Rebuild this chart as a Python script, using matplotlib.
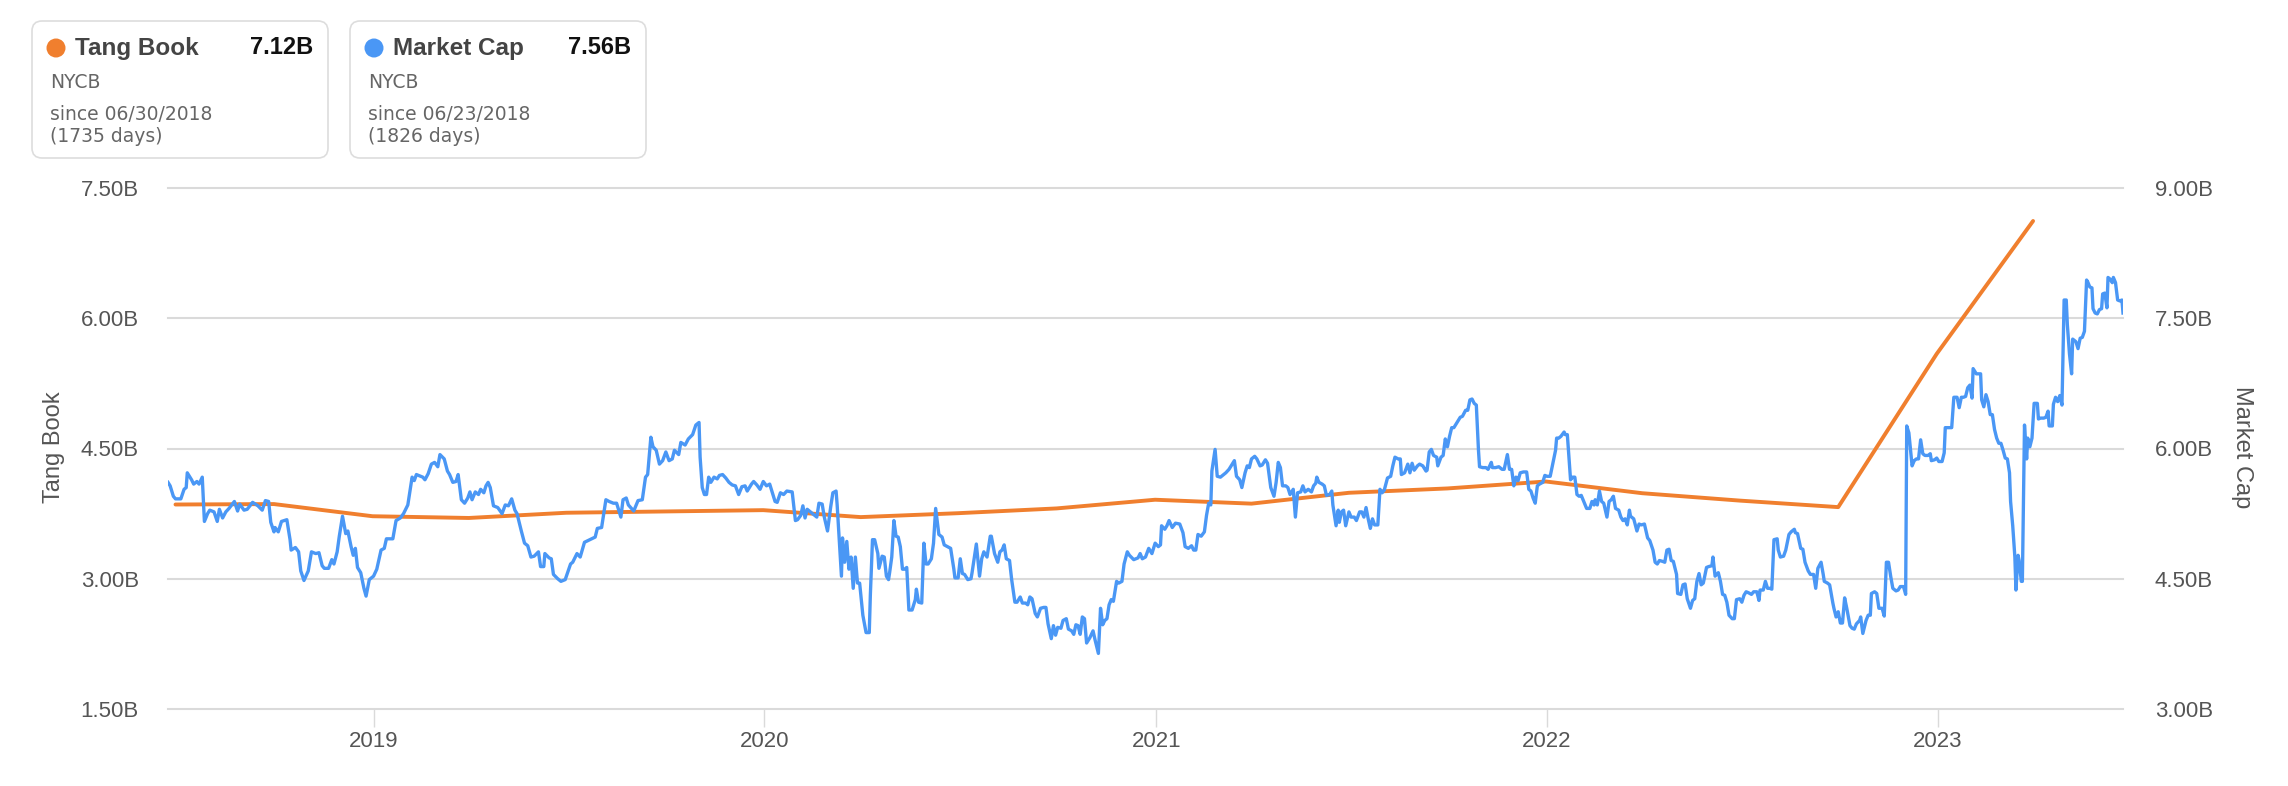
import numpy as np
import pandas as pd
import matplotlib
matplotlib.use("Agg")
import matplotlib.pyplot as plt
import matplotlib.dates as mdates
from matplotlib.patches import FancyBboxPatch, Circle
from matplotlib.ticker import FuncFormatter

# Tangible book value (quarterly, billions)
tb_dates = ["2018-06-30", "2018-09-30", "2018-12-31", "2019-03-31", "2019-06-30",
            "2019-09-30", "2019-12-31", "2020-03-31", "2020-06-30", "2020-09-30",
            "2020-12-31", "2021-03-31", "2021-06-30", "2021-09-30", "2021-12-31",
            "2022-03-31", "2022-06-30", "2022-09-30", "2022-12-31", "2023-03-31"]
tb_vals = [3.855, 3.86, 3.72, 3.70, 3.76, 3.775, 3.79, 3.71, 3.755, 3.81,
           3.91, 3.865, 3.99, 4.04, 4.12, 3.985, 3.90, 3.825, 5.59, 7.12]

# Market cap (days since 2018-06-23, billions)
mc_start = "2018-06-23"
mc_days = [
    0, 2, 5, 7, 12, 15, 17, 18, 22, 24, 27, 29, 32, 34, 37, 39, 43, 46, 48, 51,
    54, 57, 62, 65, 67, 71, 74, 79, 84, 88, 91, 94, 96, 99, 100, 103, 106, 111, 114, 115,
    119, 122, 124, 127, 131, 134, 138, 141, 144, 146, 150, 153, 155, 158, 160, 163, 166, 168, 171, 173,
    175, 177, 180, 183, 185, 188, 192, 195, 199, 202, 204, 210, 213, 217, 220, 224, 228, 230, 232, 238,
    240, 243, 246, 249, 252, 254, 258, 261, 263, 266, 269, 271, 274, 277, 280, 282, 284, 287, 290, 292,
    295, 297, 299, 301, 304, 308, 312, 315, 318, 321, 324, 326, 330, 333, 336, 339, 342, 346, 348, 351,
    352, 356, 358, 360, 364, 367, 371, 376, 378, 382, 385, 389, 394, 399, 401, 405, 409, 412, 416, 419,
    423, 425, 428, 430, 435, 439, 443, 446, 448, 451, 453, 456, 459, 462, 465, 468, 471, 473, 477, 479,
    483, 486, 490, 493, 496, 497, 499, 501, 503, 505, 507, 510, 513, 515, 518, 521, 524, 527, 530, 533,
    536, 539, 541, 545, 547, 550, 553,
    556, 559, 562, 564, 567, 569, 572, 575, 578, 583, 586, 588, 591, 593, 595, 597, 600, 603, 606, 608,
    611, 613, 616, 619, 621, 624, 625, 627, 629, 630, 632, 634, 636, 638, 640, 642, 644, 646, 649, 652,
    655, 656, 658, 660, 663, 664, 667, 669, 671, 673, 674, 676, 678, 680, 682, 684, 686, 688, 690, 692,
    695, 698, 699, 701, 704, 706, 708, 710, 713, 715, 717, 720, 723, 725, 728, 731, 734, 735, 738, 740,
    742, 744, 747, 750, 751, 755, 758, 760, 762, 765, 768, 769, 772, 775, 777, 779, 781, 783, 786, 788,
    791, 793, 796, 798, 801, 803, 805, 807, 810, 812, 815, 818, 820, 822, 825, 827, 829, 831, 834, 836,
    839, 841, 844, 846, 848, 850, 852, 854, 856, 858, 861, 864, 866, 869, 871, 873, 875, 877, 879, 881,
    883, 886, 888, 891, 893, 896, 898, 902, 906, 908, 910, 913, 916, 919, 922, 925, 927, 928, 931, 933,
    935, 938, 941, 945, 948, 950, 953, 956, 958, 960, 962, 965, 968, 970, 972, 974, 975, 978, 980, 983,
    986, 988, 991, 993, 996, 998, 1001, 1003, 1006, 1008, 1010, 1012, 1015, 1017, 1020, 1022, 1025, 1027, 1030, 1033,
    1035, 1037, 1039, 1041, 1044, 1046, 1048, 1051, 1053, 1055, 1058, 1060, 1062, 1065, 1068, 1070, 1072, 1073, 1075, 1078,
    1080, 1082, 1085, 1087, 1088, 1091, 1093,
    1094, 1096, 1098, 1100, 1103, 1105, 1108, 1110, 1113, 1115, 1117, 1119, 1121, 1123, 1125, 1127, 1130, 1132, 1134, 1136,
    1139, 1142, 1144, 1146, 1149, 1151, 1152, 1155, 1158, 1160, 1162, 1164, 1167, 1169, 1172, 1175, 1176, 1178, 1180, 1182,
    1185, 1186, 1189, 1191, 1193, 1195, 1197, 1199, 1201, 1204, 1207, 1209, 1212, 1214, 1216, 1218, 1220, 1222, 1224, 1225,
    1228, 1231, 1233, 1236, 1237, 1240, 1243, 1246, 1248, 1251, 1253, 1255, 1257, 1259, 1261, 1263, 1266, 1269, 1271, 1273,
    1275, 1277, 1279, 1281, 1284, 1286, 1288, 1291, 1294, 1296, 1297, 1299, 1301, 1304, 1305, 1307, 1310, 1312, 1314, 1316,
    1318, 1320, 1323, 1325, 1328, 1330, 1332, 1333, 1335, 1337, 1339, 1341, 1344, 1346, 1348, 1350, 1352, 1355, 1357, 1359,
    1361, 1363, 1365, 1366, 1369, 1372, 1374, 1376, 1379, 1382, 1384, 1387, 1389, 1391, 1393, 1396, 1398, 1400, 1402, 1404,
    1406, 1409, 1410, 1413, 1415, 1417, 1419, 1422, 1424, 1426, 1428, 1430, 1432, 1434, 1437, 1439, 1442, 1443, 1445, 1448,
    1450, 1452, 1454, 1456, 1458, 1461, 1463, 1465, 1468, 1470, 1472, 1474, 1476, 1479, 1481, 1484, 1486, 1487, 1490, 1492,
    1494, 1496, 1498, 1500, 1503, 1504, 1506, 1509, 1511, 1514, 1516, 1519, 1520, 1522, 1525, 1527, 1529, 1532, 1534, 1537,
    1539, 1541, 1544, 1546, 1547, 1550, 1552, 1555, 1556, 1558, 1560, 1562, 1564, 1566, 1568, 1571, 1573, 1575, 1577, 1580,
    1581, 1583, 1586, 1588, 1590, 1591, 1594, 1596, 1598, 1601, 1603, 1605, 1607, 1609, 1611, 1614, 1616, 1618, 1621, 1623,
    1624,
    1626, 1629, 1631, 1633, 1635, 1637, 1639, 1641, 1644, 1646, 1647, 1650, 1652, 1654, 1657, 1659, 1660, 1664, 1666, 1668,
    1671, 1673, 1675, 1677, 1679, 1681, 1683, 1685, 1686, 1689, 1690, 1693, 1694, 1696, 1698, 1700, 1702, 1704, 1706, 1708,
    1710, 1712, 1714, 1716, 1718, 1720, 1721, 1723, 1725, 1726, 1728, 1729, 1731, 1732, 1734, 1736, 1737, 1739, 1741, 1743,
    1746, 1747, 1749, 1752, 1754, 1756, 1757, 1760, 1761, 1763, 1765, 1767, 1769, 1771, 1773, 1774, 1776, 1778, 1779, 1782,
    1784, 1786, 1788, 1790, 1792, 1793, 1795, 1797, 1798, 1800, 1802, 1804, 1806, 1807, 1809, 1811, 1812, 1814, 1816, 1817,
    1819, 1821, 1823, 1825, 1826]
mc_vals = [
    5.61, 5.57, 5.45, 5.42, 5.42, 5.53, 5.55, 5.72, 5.64, 5.59, 5.62, 5.59, 5.67, 5.16, 5.25, 5.29, 5.27, 5.16, 5.30, 5.20,
    5.27, 5.31, 5.39, 5.28, 5.36, 5.29, 5.30, 5.38, 5.34, 5.29, 5.40, 5.39, 5.15, 5.04, 5.09, 5.04, 5.16, 5.18, 4.95, 4.83,
    4.86, 4.81, 4.59, 4.48, 4.59, 4.81, 4.79, 4.80, 4.65, 4.62, 4.62, 4.72, 4.67, 4.81, 4.99, 5.22, 5.02, 5.05, 4.87, 4.77,
    4.85, 4.63, 4.57, 4.39, 4.30, 4.49, 4.53, 4.61, 4.83, 4.85, 4.96, 4.96, 5.17, 5.20, 5.25, 5.35, 5.67, 5.63, 5.70, 5.67,
    5.64, 5.71, 5.82, 5.84, 5.79, 5.93, 5.88, 5.74, 5.70, 5.61, 5.62, 5.70, 5.41, 5.37, 5.43, 5.50, 5.41, 5.50, 5.47, 5.53,
    5.49, 5.57, 5.61, 5.55, 5.34, 5.32, 5.25, 5.35, 5.34, 5.42, 5.29, 5.25, 5.05, 4.91, 4.88, 4.75, 4.76, 4.81, 4.64, 4.64,
    4.79, 4.74, 4.73, 4.55, 4.50, 4.47, 4.49, 4.67, 4.69, 4.79, 4.75, 4.92, 4.95, 4.98, 5.08, 5.09, 5.41, 5.39, 5.37, 5.37,
    5.21, 5.41, 5.43, 5.35, 5.28, 5.40, 5.41, 5.67, 5.70, 6.13, 6.02, 5.98, 5.82, 5.86, 5.96, 5.86, 5.88, 5.98, 5.93, 6.07,
    6.04, 6.11, 6.16, 6.27, 6.30, 5.90, 5.55, 5.47, 5.47, 5.67, 5.61, 5.67, 5.65, 5.69, 5.70, 5.66, 5.61, 5.58, 5.57, 5.47,
    5.56, 5.57, 5.51, 5.59, 5.62, 5.58, 5.53,
    5.62, 5.57, 5.59, 5.51, 5.39, 5.38, 5.49, 5.47, 5.51, 5.50, 5.17, 5.18, 5.23, 5.34, 5.20, 5.30, 5.27, 5.24, 5.21, 5.37,
    5.36, 5.21, 5.05, 5.33, 5.49, 5.51, 5.35, 4.95, 4.53, 4.97, 4.69, 4.93, 4.61, 4.75, 4.39, 4.75, 4.45, 4.45, 4.08, 3.88,
    3.88, 4.31, 4.95, 4.95, 4.79, 4.62, 4.76, 4.75, 4.53, 4.49, 4.57, 4.75, 5.17, 4.99, 4.98, 4.87, 4.61, 4.61, 4.63, 4.14,
    4.14, 4.26, 4.38, 4.23, 4.22, 4.91, 4.67, 4.67, 4.73, 4.91, 5.31, 5.01, 4.98, 4.89, 4.87, 4.85, 4.61, 4.51, 4.51, 4.73,
    4.56, 4.55, 4.49, 4.50, 4.57, 4.90, 4.53, 4.73, 4.81, 4.75, 4.99, 4.99, 4.79, 4.69, 4.81, 4.83, 4.89, 4.73, 4.71, 4.49,
    4.23, 4.23, 4.29, 4.22, 4.22, 4.20, 4.29, 4.27, 4.10, 4.06, 4.16, 4.17, 4.17, 3.98, 3.81, 3.96, 3.85, 3.94, 3.93, 4.02,
    4.04, 3.92, 3.90, 3.86, 3.97, 3.96, 3.86, 4.06, 4.04, 3.76, 3.82, 3.90, 3.79, 3.64, 4.16, 3.97, 4.02, 4.04, 4.20, 4.26,
    4.24, 4.47, 4.45, 4.47, 4.67, 4.81, 4.77, 4.72, 4.74, 4.79, 4.73, 4.75, 4.85, 4.79, 4.91, 4.87, 4.89, 5.11, 5.07, 5.11,
    5.17, 5.09, 5.14, 5.13, 5.03, 4.87, 4.85, 4.88, 4.83, 4.83, 5.01, 4.99, 5.04, 5.23, 5.37, 5.35, 5.74, 5.99, 5.68, 5.67,
    5.70, 5.72, 5.76, 5.80, 5.86, 5.68, 5.64, 5.55, 5.72, 5.80, 5.78, 5.88, 5.91, 5.88, 5.80, 5.81, 5.87, 5.83, 5.55, 5.45,
    5.61, 5.84, 5.78, 5.57, 5.57, 5.55, 5.47, 5.53, 5.21, 5.49, 5.50, 5.57, 5.50, 5.53, 5.50, 5.57, 5.60, 5.67, 5.61, 5.59,
    5.57, 5.46, 5.47, 5.51, 5.35, 5.11, 5.29,
    5.15, 5.27, 5.29, 5.11, 5.27, 5.21, 5.21, 5.17, 5.27, 5.27, 5.21, 5.32, 5.19, 5.08, 5.19, 5.12, 5.12, 5.53, 5.49, 5.52,
    5.66, 5.68, 5.80, 5.90, 5.88, 5.88, 5.70, 5.72, 5.82, 5.72, 5.83, 5.75, 5.80, 5.82, 5.80, 5.74, 5.75, 5.96, 5.99, 5.92,
    5.90, 5.80, 5.90, 5.92, 6.11, 6.02, 6.14, 6.24, 6.24, 6.30, 6.36, 6.37, 6.44, 6.44, 6.56, 6.57, 6.52, 6.50, 5.98, 5.79,
    5.78, 5.78, 5.76, 5.84, 5.78, 5.78, 5.79, 5.76, 5.76, 5.93, 5.76, 5.76, 5.57, 5.67, 5.63, 5.72, 5.73, 5.73, 5.53, 5.51,
    5.43, 5.37, 5.57, 5.59, 5.61, 5.69, 5.68, 5.68, 5.86, 5.98, 6.12, 6.12, 6.14, 6.19, 6.16, 6.16, 5.64, 5.67, 5.67, 5.47,
    5.45, 5.46, 5.37, 5.31, 5.31, 5.39, 5.35, 5.41, 5.35, 5.51, 5.39, 5.37, 5.21, 5.39, 5.41, 5.45, 5.31, 5.29, 5.21, 5.17,
    5.19, 5.12, 5.29, 5.22, 5.19, 5.05, 5.13, 5.12, 5.13, 4.97, 4.94, 4.83, 4.69, 4.67, 4.71, 4.70, 4.69, 4.83, 4.84, 4.71,
    4.70, 4.55, 4.33, 4.32, 4.43, 4.44, 4.27, 4.16, 4.25, 4.27, 4.47, 4.56, 4.43, 4.45, 4.63, 4.64, 4.65, 4.75, 4.53, 4.57,
    4.47, 4.32, 4.31, 4.23, 4.08, 4.04, 4.04, 4.26, 4.27, 4.23, 4.31, 4.35, 4.34, 4.32, 4.35, 4.35, 4.25, 4.37, 4.37, 4.47,
    4.39, 4.39, 4.38, 4.95, 4.96, 4.83, 4.75, 4.76, 4.83, 5.01, 5.04, 5.07, 5.03, 5.02, 4.85, 4.84, 4.69, 4.59, 4.55, 4.55,
    4.39, 4.62, 4.69, 4.55, 4.47, 4.45, 4.43, 4.22, 4.16, 4.06, 4.12, 3.99, 3.99, 4.28, 4.16, 3.96, 3.93, 3.92, 3.98, 4.02,
    4.06, 3.87, 4.02, 4.08, 4.08, 4.33, 4.35, 4.33, 4.16, 4.16, 4.07, 4.69, 4.69, 4.53, 4.39, 4.36, 4.37, 4.41, 4.41, 4.32,
    6.26,
    6.18, 5.80, 5.86, 5.88, 5.88, 6.10, 5.94, 5.92, 5.92, 5.94, 5.86, 5.87, 5.89, 5.85, 5.85, 5.95, 6.24, 6.24, 6.24, 6.59,
    6.59, 6.47, 6.59, 6.59, 6.60, 6.70, 6.73, 6.58, 6.92, 6.86, 6.86, 6.86, 6.56, 6.48, 6.62, 6.54, 6.39, 6.39, 6.22, 6.12,
    6.06, 6.06, 5.98, 5.89, 5.88, 5.72, 5.39, 5.11, 4.75, 4.37, 4.77, 4.71, 4.47, 4.47, 6.27, 5.88, 6.12, 6.02, 6.12, 6.52,
    6.52, 6.34, 6.35, 6.35, 6.36, 6.43, 6.26, 6.26, 6.51, 6.59, 6.54, 6.61, 6.50, 7.71, 7.71, 7.43, 7.09, 6.86, 7.26, 7.23,
    7.15, 7.27, 7.28, 7.35, 7.94, 7.92, 7.86, 7.85, 7.61, 7.56, 7.55, 7.60, 7.61, 7.78, 7.79, 7.62, 7.97, 7.95, 7.91, 7.97,
    7.91, 7.71, 7.70, 7.71, 7.56]

left_ticks = [1.5, 3.0, 4.5, 6.0, 7.5]
right_ticks = [3.0, 4.5, 6.0, 7.5, 9.0]

plt.rcParams['font.family'] = ['Liberation Sans', 'DejaVu Sans']

ORANGE = '#f07f2e'
BLUE = '#4a97f5'
GRID = '#dadada'
TXT = '#555555'

W, H = 2288, 786
fig = plt.figure(figsize=(W / 100, H / 100), dpi=100)
L, R, T, B = 168, 2123, 188, 709
ax1 = fig.add_axes([L / W, 1 - B / H, (R - L) / W, (B - T) / H])
ax2 = ax1.twinx()

tb_x = pd.to_datetime(tb_dates)
mc_x = pd.Timestamp(mc_start) + pd.to_timedelta(mc_days, unit='D')

ax1.plot(tb_x, tb_vals, color=ORANGE, lw=2.8, solid_capstyle='round', solid_joinstyle='round', zorder=3)
ax2.plot(mc_x, mc_vals, color=BLUE, lw=2.4, solid_joinstyle='round', zorder=3)

ax1.set_xlim(pd.Timestamp("2018-06-23"), pd.Timestamp("2023-06-23"))
ax1.set_ylim(1.5, 7.5)
ax2.set_ylim(3.0, 9.0)
ax1.set_yticks(left_ticks)
ax2.set_yticks(right_ticks)
fmt = FuncFormatter(lambda v, p: f"{v:.2f}B")
ax1.yaxis.set_major_formatter(fmt)
ax2.yaxis.set_major_formatter(fmt)

for t in left_ticks:
    ax1.axhline(t, color=GRID, lw=1.5, zorder=0, clip_on=False)

ax1.xaxis.set_major_locator(mdates.YearLocator())
ax1.xaxis.set_major_formatter(mdates.DateFormatter('%Y'))

for a in (ax1, ax2):
    for s in a.spines.values():
        s.set_visible(False)
    a.set_facecolor('none')

ax1.tick_params(axis='y', length=0, pad=21, labelsize=16, labelcolor=TXT)
ax2.tick_params(axis='y', length=0, pad=23, labelsize=16, labelcolor=TXT)
ax1.tick_params(axis='x', length=13, width=1, color=GRID, pad=3, labelsize=16, labelcolor=TXT)

fig.text(54 / W, 1 - 447 / H, "Tang Book", rotation=90, ha='center', va='center',
         fontsize=17, color=TXT)
fig.text(2242 / W, 1 - 447 / H, "Market Cap", rotation=270, ha='center', va='center',
         fontsize=17, color=TXT)

# legend cards
tr = fig.dpi_scale_trans
cards = [
    (32, ORANGE, "Tang Book", "7.12B", "NYCB", "since 06/30/2018", "(1735 days)"),
    (350, BLUE, "Market Cap", "7.56B", "NYCB", "since 06/23/2018", "(1826 days)"),
]
for x0, col, name, val, tick, since, days in cards:
    box = FancyBboxPatch((x0 / 100, (H - 158) / 100), 2.96, 1.37,
                         boxstyle="round,pad=0,rounding_size=0.1",
                         transform=tr, facecolor='white', edgecolor='#dddddd', lw=1.2)
    fig.add_artist(box)
    fig.add_artist(Circle(((x0 + 24) / 100, (H - 48) / 100), 0.095, transform=tr,
                          facecolor=col, edgecolor='none'))
    fig.text((x0 + 43) / 100, (H - 48) / 100, name, transform=tr, ha='left', va='center',
             fontsize=17.5, fontweight='bold', color='#444444')
    fig.text((x0 + 281) / 100, (H - 48) / 100, val, transform=tr, ha='right', va='center',
             fontsize=17, fontweight='bold', color='#111111')
    for txt, yy in ((tick, 82), (since, 114), (days, 137)):
        fig.text((x0 + 18) / 100, (H - yy) / 100, txt, transform=tr, ha='left', va='center',
                 fontsize=13.5, color='#666666', family=['DejaVu Sans'])

fig.savefig('out.png', dpi=100, facecolor='white')
